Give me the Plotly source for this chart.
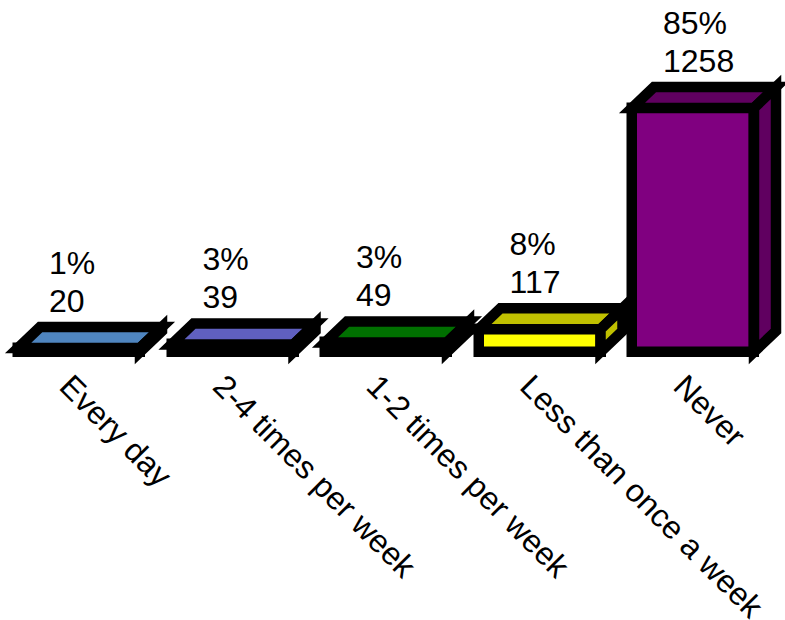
import plotly.graph_objects as go

categories = ["Every day", "2-4 times per week", "1-2 times per week", "Less than once a week", "Never"]
counts = [20, 39, 49, 117, 1258]
percents = ["1%", "3%", "3%", "8%", "85%"]
front_colors = ["#6AAAFF", "#8080FF", "#009600", "#FFFF00", "#800080"]
shade_colors = ["#4F85BF", "#6060C0", "#007000", "#C0C000", "#600060"]

PX_X = 153.5
PX_Y = 0.194
BAR_W = 122 / PX_X
DX = 22 / PX_X
DY = 21 / PX_Y
LINE_W = 10.5
FONT = "Liberation Sans, Arial, sans-serif"
positions = list(range(len(categories)))


def poly(points):
    return "M " + " L ".join(f"{x},{y}" for x, y in points) + " Z"


shapes = []
for i, v in zip(positions, counts):
    l, r = i - BAR_W / 2, i + BAR_W / 2
    top = [(l, v), (r, v), (r + DX, v + DY), (l + DX, v + DY)]
    side = [(r, 0), (r + DX, DY), (r + DX, v + DY), (r, v)]
    for pts in (top, side):
        shapes.append(dict(type="path", path=poly(pts), xref="x", yref="y",
                           fillcolor=shade_colors[i], layer="above",
                           line=dict(color="black", width=LINE_W)))

fig = go.Figure()
fig.add_bar(x=positions, y=counts, width=BAR_W, cliponaxis=False,
            marker=dict(color=front_colors, line=dict(color="black", width=LINE_W)),
            showlegend=False, hoverinfo="skip")
label_x = [i - 30 / PX_X for i in positions]
fig.add_scatter(x=label_x, y=[v + DY + 7 / PX_Y for v in counts], text=[str(v) for v in counts],
                mode="text", textposition="top right", cliponaxis=False,
                textfont=dict(family=FONT, size=32, color="black"), showlegend=False, hoverinfo="skip")
fig.add_scatter(x=label_x, y=[v + DY + 45 / PX_Y for v in counts], text=percents,
                mode="text", textposition="top right", cliponaxis=False,
                textfont=dict(family=FONT, size=32, color="black"), showlegend=False, hoverinfo="skip")

fig.update_layout(
    width=785, height=620, autosize=False,
    margin=dict(l=0, r=0, t=0, b=254, pad=0),
    paper_bgcolor="white", plot_bgcolor="white",
    shapes=shapes,
    bargap=0,
    xaxis=dict(range=[-79 / PX_X, (785 - 79) / PX_X], tickmode="array",
               tickvals=[i - 10 / PX_X for i in positions], ticktext=categories,
               tickangle=45, tickfont=dict(family=FONT, size=32, color="black"),
               ticklabelstandoff=-6,
               showgrid=False, zeroline=False, showline=False, ticks="", automargin=False),
    yaxis=dict(range=[-14 / PX_Y, 352 / PX_Y], visible=False, fixedrange=True),
)
fig.write_html("out.html", config=dict(displayModeBar=False),
               post_script="document.body.style.margin='0';document.documentElement.style.overflow='hidden';")
